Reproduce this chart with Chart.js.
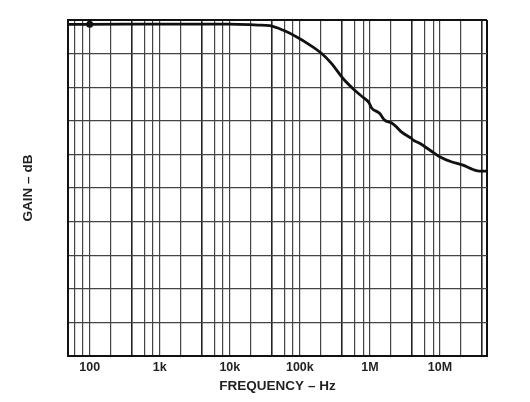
<!DOCTYPE html>
<html>
<head>
<meta charset="utf-8">
<script src="https://cdn.jsdelivr.net/npm/chart.js@4"></script>
<style>
  html, body { margin: 0; padding: 0; background: #fff; }
</style>
</head>
<body>
<canvas id="mycanvas" width="530" height="402"></canvas>
<script>
// frequency response (y in grid divisions, 0 = bottom, 10 = top)
var freqs = [49, 100, 1e3, 1e4, 2.5e4, 3.7e4, 5.7e4, 8.9e4, 1.38e5, 2.03e5, 2.82e5, 4.13e5, 6.06e5,
  7.96e5, 9.7e5, 1.05e6, 1.38e6, 1.62e6, 2.02e6, 2.39e6, 2.81e6, 3.69e6, 3.91e6, 4.12e6,
  5.13e6, 7.13e6, 9.9e6, 1.45e7, 2.13e7, 2.96e7, 3.69e7, 4.69e7];
var gain = [9.87, 9.87, 9.88, 9.88, 9.85, 9.83, 9.70, 9.50, 9.26, 9.01, 8.71, 8.26, 7.91,
  7.70, 7.54, 7.39, 7.22, 7.02, 6.94, 6.82, 6.67, 6.51, 6.48, 6.43,
  6.33, 6.13, 5.93, 5.78, 5.68, 5.55, 5.50, 5.50];

var xMin = 49;
var xMax = 4.69e7;
var gridFreqs = [60, 80, 100, 200, 400, 600, 800, 1e3, 2e3, 4e3, 6e3, 8e3, 1e4, 2e4, 4e4,
  6e4, 8e4, 1e5, 2e5, 4e5, 6e5, 8e5, 1e6, 2e6, 4e6, 6e6, 8e6, 1e7, 2e7, 4e7];
var heavyFreqs = [400, 4e3, 4e4, 4e5, 4e6, 4e7];
var tickFreqs = [100, 1e3, 1e4, 1e5, 1e6, 1e7];
var tickLabels = ['100', '1k', '10k', '100k', '1M', '10M'];
var markerFreq = 100;

var points = [];
for (var i in freqs) {
  points.push({x: freqs[i], y: gain[i]});
}

var gridAll = [xMin].concat(gridFreqs, [xMax]);

function isHeavy(v) {
  return heavyFreqs.indexOf(v) >= 0;
}

var ctx = document.getElementById('mycanvas');

var chart = new Chart(ctx, {
  type: 'line',
  data: {
    datasets: [{
      data: points,
      borderColor: '#111',
      backgroundColor: '#111',
      borderWidth: 2.8,
      cubicInterpolationMode: 'monotone',
      pointRadius: function(c) { return c.raw && c.raw.x === markerFreq ? 3.5 : 0; },
      pointBorderWidth: 0,
      pointHoverRadius: 0
    }]
  },
  options: {
    responsive: false,
    animation: false,
    events: [],
    layout: { padding: { left: 0, right: 43, top: 20, bottom: 0 } },
    plugins: { legend: { display: false }, tooltip: { enabled: false } },
    scales: {
      x: {
        type: 'logarithmic',
        min: xMin,
        max: xMax,
        afterBuildTicks: function(scale) {
          scale.ticks = gridAll.map(function(v) { return {value: v}; });
        },
        afterFit: function(scale) { scale.height = 46; },
        grid: {
          drawTicks: false,
          color: function(c) {
            var v = c.tick.value;
            if (v === xMin || v === xMax) return '#111';
            return isHeavy(v) ? '#222' : '#444';
          },
          lineWidth: function(c) {
            var v = c.tick.value;
            if (v === xMin || v === xMax) return 2;
            return isHeavy(v) ? 1.6 : 1.2;
          }
        },
        border: { display: true, color: '#111', width: 2 },
        ticks: {
          autoSkip: false,
          maxRotation: 0,
          padding: 4,
          color: '#231f20',
          font: { family: 'Liberation Sans', size: 12.5, weight: 'bold' },
          callback: function(v) {
            var k = tickFreqs.indexOf(v);
            return k >= 0 ? tickLabels[k] : '';
          }
        },
        title: {
          display: true,
          text: 'FREQUENCY \u2013 Hz',
          color: '#231f20',
          font: { family: 'Liberation Sans', size: 13.5, weight: 'bold' },
          padding: { top: 0, bottom: 8 }
        }
      },
      y: {
        min: 0,
        max: 10,
        afterFit: function(scale) { scale.width = 68; },
        grid: {
          drawTicks: false,
          color: function(c) { return (c.tick.value === 0 || c.tick.value === 10) ? '#111' : '#444'; },
          lineWidth: function(c) { return (c.tick.value === 0 || c.tick.value === 10) ? 2 : 1.3; }
        },
        border: { display: true, color: '#111', width: 2 },
        ticks: { display: false, stepSize: 1 },
        title: {
          display: true,
          text: 'GAIN \u2013 dB',
          color: '#231f20',
          font: { family: 'Liberation Sans', size: 13.5, weight: 'bold' },
          padding: { top: 20, bottom: 0 }
        }
      }
    }
  }
});
</script>
</body>
</html>
